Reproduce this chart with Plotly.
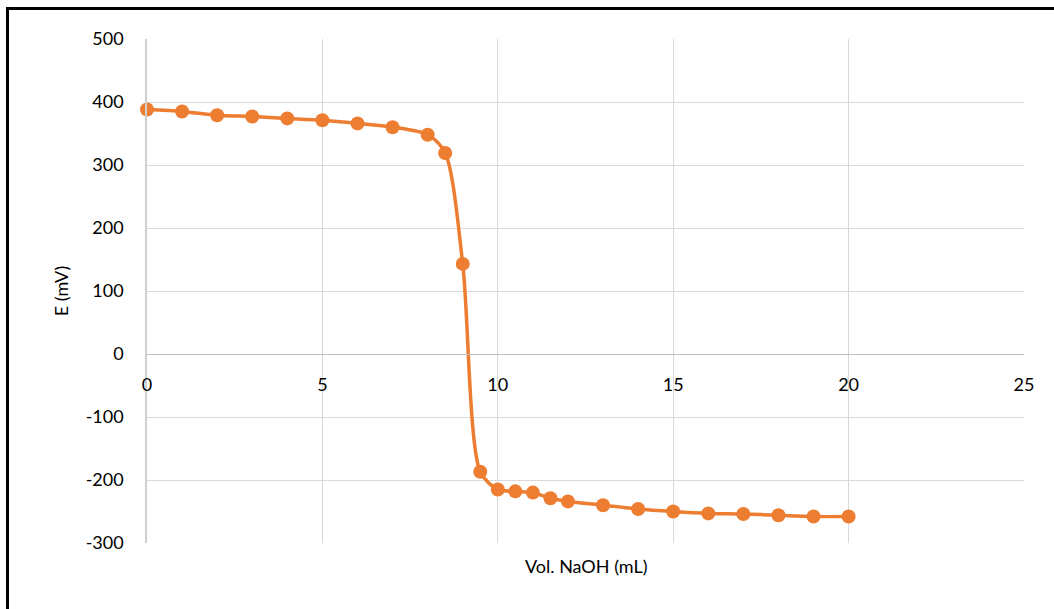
import plotly.graph_objects as go

vol_naoh = [0, 1, 2, 3, 4, 5, 6, 7, 8, 8.5, 9, 9.5, 10, 10.5, 11, 11.5, 12,
            13, 14, 15, 16, 17, 18, 19, 20]
e_mv = [388, 385, 379, 377, 374, 371, 366, 360, 348, 319, 143, -187, -215,
        -218, -220, -229, -234, -240, -246, -250, -253, -254, -256, -258, -258]

x_ticks = [0, 5, 10, 15, 20, 25]
y_ticks = [-300, -200, -100, 0, 100, 200, 300, 400, 500]

orange = "#ED7D31"
grid = "#d9d9d9"
font = dict(family="Lato, 'Open Sans', sans-serif", size=18, color="#000000")

fig = go.Figure()
fig.add_trace(go.Scatter(
    x=vol_naoh, y=e_mv, mode="lines+markers",
    line=dict(color=orange, width=3.5, shape="spline", smoothing=0.8),
    marker=dict(color=orange, size=14),
    cliponaxis=False, showlegend=False,
))

fig.update_layout(
    width=1054, height=609,
    margin=dict(l=147, r=30, t=39, b=66),
    paper_bgcolor="white", plot_bgcolor="white",
    font=font,
    xaxis=dict(
        range=[0, 25], tickvals=x_ticks, ticktext=[str(v) for v in x_ticks],
        showgrid=True, gridcolor=grid, gridwidth=1.3,
        zeroline=False, showline=True, linecolor="#bfbfbf", linewidth=1.3,
        anchor="free", position=0.375, ticks="", tickfont=font,
        ticklabelstandoff=14,
    ),
    yaxis=dict(
        range=[-300, 500], tickvals=y_ticks, ticktext=[str(v) for v in y_ticks],
        showgrid=True, gridcolor=grid, gridwidth=1.3,
        zeroline=False, showline=True, linecolor="#cfcfcf", linewidth=1.5,
        ticks="", tickfont=font, ticklabelstandoff=18,
        title=dict(text="E (mV)", font=font, standoff=12),
    ),
    annotations=[dict(
        text="Vol. NaOH (mL)", x=0.5, y=-(566 - 543) / 504, xref="paper", yref="paper",
        xanchor="center", yanchor="middle", showarrow=False, font=font,
    )],
    shapes=[dict(
        type="rect", xref="paper", yref="paper",
        x0=(7.5 - 147) / 877, x1=(1070 - 147) / 877,
        y0=-(630 - 543) / 504, y1=1 + (39 - 8.5) / 504,
        line=dict(color="black", width=3), fillcolor="rgba(0,0,0,0)",
        layer="above",
    )],
)

fig.write_html("out.html", post_script="document.body.style.margin='0';",
               config={"displayModeBar": False})
